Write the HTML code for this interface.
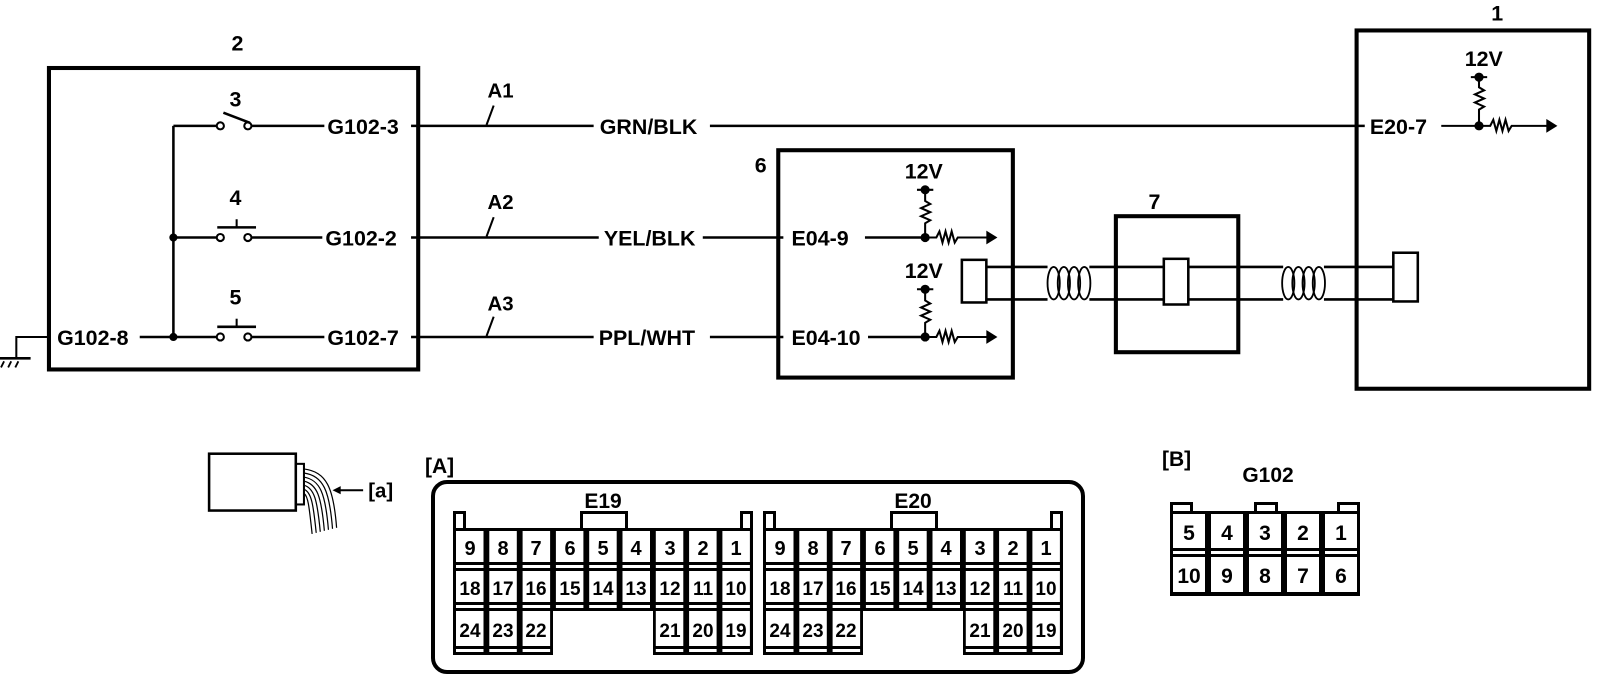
<!DOCTYPE html>
<html><head><meta charset="utf-8"><style>
html,body{margin:0;padding:0;background:#fff;}
svg{display:block;}
text{font-family:"Liberation Sans",Arial,sans-serif;font-weight:bold;fill:#000;}
</style></head><body>
<svg width="1600" height="686" viewBox="0 0 1600 686" xmlns="http://www.w3.org/2000/svg">
<g transform="scale(1.02,1.015)" stroke="#000" fill="none" stroke-linecap="butt">
  <rect x="48" y="67" width="362" height="297" stroke-width="4"/>
  <text x="227" y="50" font-size="21" stroke="none">2</text>
  <line x1="170" y1="124" x2="170" y2="332" stroke-width="2.5"/>
  <line x1="170" y1="124" x2="212" y2="124" stroke-width="2.5"/>
  <circle cx="170" cy="234" r="3.5" fill="#000"/>
  <circle cx="170" cy="332" r="3.5" fill="#000"/>
  <circle cx="216" cy="124" r="3.5" stroke-width="2" fill="#fff"/>
  <circle cx="243" cy="124" r="3.5" stroke-width="2" fill="#fff"/>
  <line x1="219" y1="111" x2="245" y2="121" stroke-width="2.5"/>
  <line x1="247" y1="124" x2="318" y2="124" stroke-width="2.5"/>
  <text x="225" y="105" font-size="21" stroke="none">3</text>
  <line x1="170" y1="234" x2="212" y2="234" stroke-width="2.5"/>
  <circle cx="216" cy="234" r="3.5" stroke-width="2" fill="#fff"/>
  <circle cx="243" cy="234" r="3.5" stroke-width="2" fill="#fff"/>
  <line x1="213" y1="224" x2="251" y2="224" stroke-width="2.5"/>
  <line x1="232" y1="216" x2="232" y2="224" stroke-width="2"/>
  <line x1="247" y1="234" x2="316" y2="234" stroke-width="2.5"/>
  <text x="225" y="202" font-size="21" stroke="none">4</text>
  <line x1="137" y1="332" x2="212" y2="332" stroke-width="2.5"/>
  <circle cx="216" cy="332" r="3.5" stroke-width="2" fill="#fff"/>
  <circle cx="243" cy="332" r="3.5" stroke-width="2" fill="#fff"/>
  <line x1="213" y1="322" x2="251" y2="322" stroke-width="2.5"/>
  <line x1="232" y1="314" x2="232" y2="322" stroke-width="2"/>
  <line x1="247" y1="332" x2="318" y2="332" stroke-width="2.5"/>
  <text x="225" y="300" font-size="21" stroke="none">5</text>
  <text x="321" y="132" font-size="21" stroke="none">G102-3</text>
  <text x="319" y="242" font-size="21" stroke="none">G102-2</text>
  <text x="321" y="340" font-size="21" stroke="none">G102-7</text>
  <text x="56" y="340" font-size="21" stroke="none">G102-8</text>
  <polyline points="50,332 16,332 16,353" stroke-width="2"/>
  <line x1="0" y1="353" x2="30" y2="353" stroke-width="2.5"/>
  <line x1="4" y1="356" x2="1" y2="362" stroke-width="1.8"/>
  <line x1="11" y1="356" x2="8" y2="362" stroke-width="1.8"/>
  <line x1="18" y1="356" x2="15" y2="362" stroke-width="1.8"/>
  <line x1="403" y1="124" x2="582" y2="124" stroke-width="2.5"/>
  <line x1="696" y1="124" x2="1338" y2="124" stroke-width="2.5"/>
  <text x="588" y="132" font-size="21" stroke="none">GRN/BLK</text>
  <line x1="403" y1="234" x2="587" y2="234" stroke-width="2.5"/>
  <line x1="689" y1="234" x2="768" y2="234" stroke-width="2.5"/>
  <text x="592" y="242" font-size="21" stroke="none">YEL/BLK</text>
  <line x1="403" y1="332" x2="582" y2="332" stroke-width="2.5"/>
  <line x1="696" y1="332" x2="768" y2="332" stroke-width="2.5"/>
  <text x="587" y="340" font-size="21" stroke="none">PPL/WHT</text>
  <text x="478" y="96" font-size="20" stroke="none">A1</text>
  <line x1="477" y1="123" x2="484" y2="104" stroke-width="2"/>
  <text x="478" y="206" font-size="20" stroke="none">A2</text>
  <line x1="477" y1="233" x2="484" y2="214" stroke-width="2"/>
  <text x="478" y="306" font-size="20" stroke="none">A3</text>
  <line x1="477" y1="331" x2="484" y2="312" stroke-width="2"/>
  <rect x="763" y="148" width="230" height="224" stroke-width="4"/>
  <text x="740" y="170" font-size="21" stroke="none">6</text>
  <text x="776" y="242" font-size="21" stroke="none">E04-9</text>
  <text x="776" y="340" font-size="21" stroke="none">E04-10</text>
  <text x="887" y="176" font-size="21" stroke="none">12V</text>
  <text x="887" y="274" font-size="21" stroke="none">12V</text>
  <line x1="848" y1="234" x2="904" y2="234" stroke-width="2.5"/>
  <line x1="851" y1="332" x2="904" y2="332" stroke-width="2.5"/>
  <g stroke-width="2">
    <line x1="899" y1="187" x2="915" y2="187"/>
    <circle cx="907" cy="187" r="3.5" fill="#000"/>
    <polyline points="907,187 907,198 912,201 903,205 912,209 903,213 912,217 907,220 907,234"/>
    <circle cx="907" cy="234" r="3.5" fill="#000"/>
    <polyline points="907,234 918,234 921,228 924,239 927,228 930,239 933,228 936,239 939,234 968,234"/>
    <polygon points="968,229 976,234 968,239" fill="#000"/>
    <line x1="899" y1="285" x2="915" y2="285"/>
    <circle cx="907" cy="285" r="3.5" fill="#000"/>
    <polyline points="907,285 907,296 912,299 903,303 912,307 903,311 912,315 907,318 907,332"/>
    <circle cx="907" cy="332" r="3.5" fill="#000"/>
    <polyline points="907,332 918,332 921,326 924,337 927,326 930,337 933,326 936,337 939,332 968,332"/>
    <polygon points="968,327 976,332 968,337" fill="#000"/>
  </g>
  <rect x="1330" y="30" width="228" height="353" stroke-width="4"/>
  <text x="1462" y="20" font-size="21" stroke="none">1</text>
  <text x="1343" y="132" font-size="21" stroke="none">E20-7</text>
  <text x="1436" y="65" font-size="21" stroke="none">12V</text>
  <g stroke-width="2">
    <line x1="1413" y1="124" x2="1450" y2="124"/>
    <line x1="1442" y1="76" x2="1458" y2="76"/>
    <circle cx="1450" cy="76" r="3.5" fill="#000"/>
    <polyline points="1450,76 1450,86 1455,89 1446,93 1455,97 1446,101 1455,105 1450,108 1450,124"/>
    <circle cx="1450" cy="124" r="3.5" fill="#000"/>
    <polyline points="1450,124 1461,124 1464,118 1467,129 1470,118 1473,129 1476,118 1479,129 1482,124 1517,124"/>
    <polygon points="1517,119 1525,124 1517,129" fill="#000"/>
  </g>
  <rect x="1094" y="213" width="120" height="134" stroke-width="4"/>
  <text x="1126" y="206" font-size="21" stroke="none">7</text>
  <g stroke-width="2.5">
    <line x1="967" y1="263" x2="1027" y2="263"/>
    <line x1="967" y1="295" x2="1027" y2="295"/>
    <line x1="1068" y1="263" x2="1258" y2="263"/>
    <line x1="1068" y1="295" x2="1258" y2="295"/>
    <line x1="1298" y1="263" x2="1366" y2="263"/>
    <line x1="1298" y1="295" x2="1366" y2="295"/>
    <g stroke-width="1.8">
      <ellipse cx="1033" cy="279" rx="6" ry="16"/>
      <ellipse cx="1043" cy="279" rx="6" ry="16"/>
      <ellipse cx="1053" cy="279" rx="6" ry="16"/>
      <ellipse cx="1063" cy="279" rx="6" ry="16"/>
      <ellipse cx="1263" cy="279" rx="6" ry="16"/>
      <ellipse cx="1273" cy="279" rx="6" ry="16"/>
      <ellipse cx="1283" cy="279" rx="6" ry="16"/>
      <ellipse cx="1293" cy="279" rx="6" ry="16"/>
    </g>
    <rect x="943" y="256" width="24" height="42" fill="#fff"/>
    <rect x="1141" y="255" width="24" height="45" fill="#fff"/>
    <rect x="1366" y="249" width="24" height="48" fill="#fff"/>
  </g>
  <rect x="205" y="447" width="85" height="56" stroke-width="2.5"/>
  <rect x="290" y="457" width="8" height="40" stroke-width="2"/>
  <g stroke-width="1.2">
    <path d="M298,462 C320,465 327,480 330,520"/>
    <path d="M298,466 C317,469 323,483 326,521"/>
    <path d="M298,470 C314,473 319,486 322,522"/>
    <path d="M298,474 C311,477 315,489 318,523"/>
    <path d="M298,478 C308,481 311,492 314,524"/>
    <path d="M298,482 C305,485 307,495 310,525"/>
    <path d="M298,486 C302,489 303,498 306,526"/>
  </g>
  <line x1="332" y1="483" x2="356" y2="483" stroke-width="2"/>
  <polygon points="326,483 334,479 334,487" fill="#000" stroke="none"/>
  <text x="361" y="490" font-size="20" stroke="none">[a]</text>
</g>

<text x="425" y="473" font-size="21">[A]</text>
<rect x="433" y="482" width="650" height="190" rx="14" fill="none" stroke="#000" stroke-width="4"/>
<text x="603" y="508" font-size="21" text-anchor="middle">E19</text>
<text x="913" y="508" font-size="21" text-anchor="middle">E20</text>
<g fill="#000">
  <rect x="453" y="528" width="300" height="83"/>
  <rect x="453" y="611" width="100" height="44"/>
  <rect x="653" y="611" width="100" height="44"/>
  <rect x="453" y="511" width="13" height="17"/>
  <rect x="580" y="511" width="48" height="17"/>
  <rect x="740" y="511" width="13" height="17"/>
  <rect x="763" y="528" width="300" height="83"/>
  <rect x="763" y="611" width="100" height="44"/>
  <rect x="963" y="611" width="100" height="44"/>
  <rect x="763" y="511" width="13" height="17"/>
  <rect x="890" y="511" width="48" height="17"/>
  <rect x="1050" y="511" width="13" height="17"/>
  <rect x="1170" y="511" width="190" height="85"/>
  <rect x="1170" y="502" width="23" height="9"/>
  <rect x="1254" y="502" width="24" height="9"/>
  <rect x="1337" y="502" width="23" height="9"/>
</g>
<g fill="#fff">
  <rect x="456" y="514" width="7" height="14"/><rect x="583" y="514" width="42" height="14"/><rect x="743" y="514" width="7" height="14"/>
  <rect x="766" y="514" width="7" height="14"/><rect x="893" y="514" width="42" height="14"/><rect x="1053" y="514" width="7" height="14"/>
  <rect x="1173" y="505" width="17" height="6"/><rect x="1257" y="505" width="18" height="6"/><rect x="1340" y="505" width="17" height="6"/>
</g>
<g fill="#fff">
  <rect x="456" y="531" width="27.5" height="31"/><rect x="489.3" y="531" width="27.5" height="31"/><rect x="522.6" y="531" width="27.5" height="31"/><rect x="555.9" y="531" width="27.5" height="31"/><rect x="589.2" y="531" width="27.5" height="31"/><rect x="622.5" y="531" width="27.5" height="31"/><rect x="655.8" y="531" width="27.5" height="31"/><rect x="689.1" y="531" width="27.5" height="31"/><rect x="722.4" y="531" width="27.5" height="31"/>
  <rect x="456" y="565" width="27.5" height="3"/><rect x="489.3" y="565" width="27.5" height="3"/><rect x="522.6" y="565" width="27.5" height="3"/><rect x="555.9" y="565" width="27.5" height="3"/><rect x="589.2" y="565" width="27.5" height="3"/><rect x="622.5" y="565" width="27.5" height="3"/><rect x="655.8" y="565" width="27.5" height="3"/><rect x="689.1" y="565" width="27.5" height="3"/><rect x="722.4" y="565" width="27.5" height="3"/>
  <rect x="456" y="571" width="27.5" height="31"/><rect x="489.3" y="571" width="27.5" height="31"/><rect x="522.6" y="571" width="27.5" height="31"/><rect x="555.9" y="571" width="27.5" height="31"/><rect x="589.2" y="571" width="27.5" height="31"/><rect x="622.5" y="571" width="27.5" height="31"/><rect x="655.8" y="571" width="27.5" height="31"/><rect x="689.1" y="571" width="27.5" height="31"/><rect x="722.4" y="571" width="27.5" height="31"/>
  <rect x="456" y="605" width="27.5" height="3"/><rect x="489.3" y="605" width="27.5" height="3"/><rect x="522.6" y="605" width="27.5" height="3"/><rect x="555.9" y="605" width="27.5" height="3"/><rect x="589.2" y="605" width="27.5" height="3"/><rect x="622.5" y="605" width="27.5" height="3"/><rect x="655.8" y="605" width="27.5" height="3"/><rect x="689.1" y="605" width="27.5" height="3"/><rect x="722.4" y="605" width="27.5" height="3"/>
  <rect x="456" y="611" width="27.5" height="35"/><rect x="489.3" y="611" width="27.5" height="35"/><rect x="522.6" y="611" width="27.5" height="35"/><rect x="655.8" y="611" width="27.5" height="35"/><rect x="689.1" y="611" width="27.5" height="35"/><rect x="722.4" y="611" width="27.5" height="35"/>
  <rect x="456" y="649" width="27.5" height="3"/><rect x="489.3" y="649" width="27.5" height="3"/><rect x="522.6" y="649" width="27.5" height="3"/><rect x="655.8" y="649" width="27.5" height="3"/><rect x="689.1" y="649" width="27.5" height="3"/><rect x="722.4" y="649" width="27.5" height="3"/>
</g>
<g fill="#fff" transform="translate(310,0)">
  <rect x="456" y="531" width="27.5" height="31"/><rect x="489.3" y="531" width="27.5" height="31"/><rect x="522.6" y="531" width="27.5" height="31"/><rect x="555.9" y="531" width="27.5" height="31"/><rect x="589.2" y="531" width="27.5" height="31"/><rect x="622.5" y="531" width="27.5" height="31"/><rect x="655.8" y="531" width="27.5" height="31"/><rect x="689.1" y="531" width="27.5" height="31"/><rect x="722.4" y="531" width="27.5" height="31"/>
  <rect x="456" y="565" width="27.5" height="3"/><rect x="489.3" y="565" width="27.5" height="3"/><rect x="522.6" y="565" width="27.5" height="3"/><rect x="555.9" y="565" width="27.5" height="3"/><rect x="589.2" y="565" width="27.5" height="3"/><rect x="622.5" y="565" width="27.5" height="3"/><rect x="655.8" y="565" width="27.5" height="3"/><rect x="689.1" y="565" width="27.5" height="3"/><rect x="722.4" y="565" width="27.5" height="3"/>
  <rect x="456" y="571" width="27.5" height="31"/><rect x="489.3" y="571" width="27.5" height="31"/><rect x="522.6" y="571" width="27.5" height="31"/><rect x="555.9" y="571" width="27.5" height="31"/><rect x="589.2" y="571" width="27.5" height="31"/><rect x="622.5" y="571" width="27.5" height="31"/><rect x="655.8" y="571" width="27.5" height="31"/><rect x="689.1" y="571" width="27.5" height="31"/><rect x="722.4" y="571" width="27.5" height="31"/>
  <rect x="456" y="605" width="27.5" height="3"/><rect x="489.3" y="605" width="27.5" height="3"/><rect x="522.6" y="605" width="27.5" height="3"/><rect x="555.9" y="605" width="27.5" height="3"/><rect x="589.2" y="605" width="27.5" height="3"/><rect x="622.5" y="605" width="27.5" height="3"/><rect x="655.8" y="605" width="27.5" height="3"/><rect x="689.1" y="605" width="27.5" height="3"/><rect x="722.4" y="605" width="27.5" height="3"/>
  <rect x="456" y="611" width="27.5" height="35"/><rect x="489.3" y="611" width="27.5" height="35"/><rect x="522.6" y="611" width="27.5" height="35"/><rect x="655.8" y="611" width="27.5" height="35"/><rect x="689.1" y="611" width="27.5" height="35"/><rect x="722.4" y="611" width="27.5" height="35"/>
  <rect x="456" y="649" width="27.5" height="3"/><rect x="489.3" y="649" width="27.5" height="3"/><rect x="522.6" y="649" width="27.5" height="3"/><rect x="655.8" y="649" width="27.5" height="3"/><rect x="689.1" y="649" width="27.5" height="3"/><rect x="722.4" y="649" width="27.5" height="3"/>
</g>
<g font-size="20" text-anchor="middle">
  <g>
    <text x="470" y="555">9</text><text x="503" y="555">8</text><text x="536" y="555">7</text><text x="570" y="555">6</text><text x="603" y="555">5</text><text x="636" y="555">4</text><text x="670" y="555">3</text><text x="703" y="555">2</text><text x="736" y="555">1</text>
    <text x="470" y="595" font-size="19">18</text><text x="503" y="595" font-size="19">17</text><text x="536" y="595" font-size="19">16</text><text x="570" y="595" font-size="19">15</text><text x="603" y="595" font-size="19">14</text><text x="636" y="595" font-size="19">13</text><text x="670" y="595" font-size="19">12</text><text x="703" y="595" font-size="19">11</text><text x="736" y="595" font-size="19">10</text>
    <text x="470" y="637" font-size="19">24</text><text x="503" y="637" font-size="19">23</text><text x="536" y="637" font-size="19">22</text><text x="670" y="637" font-size="19">21</text><text x="703" y="637" font-size="19">20</text><text x="736" y="637" font-size="19">19</text>
  </g>
  <g transform="translate(310,0)">
    <text x="470" y="555">9</text><text x="503" y="555">8</text><text x="536" y="555">7</text><text x="570" y="555">6</text><text x="603" y="555">5</text><text x="636" y="555">4</text><text x="670" y="555">3</text><text x="703" y="555">2</text><text x="736" y="555">1</text>
    <text x="470" y="595" font-size="19">18</text><text x="503" y="595" font-size="19">17</text><text x="536" y="595" font-size="19">16</text><text x="570" y="595" font-size="19">15</text><text x="603" y="595" font-size="19">14</text><text x="636" y="595" font-size="19">13</text><text x="670" y="595" font-size="19">12</text><text x="703" y="595" font-size="19">11</text><text x="736" y="595" font-size="19">10</text>
    <text x="470" y="637" font-size="19">24</text><text x="503" y="637" font-size="19">23</text><text x="536" y="637" font-size="19">22</text><text x="670" y="637" font-size="19">21</text><text x="703" y="637" font-size="19">20</text><text x="736" y="637" font-size="19">19</text>
  </g>
</g>

<text x="1162" y="466" font-size="21">[B]</text>
<text x="1268" y="482" font-size="21" text-anchor="middle">G102</text>
<g fill="#fff">
  <rect x="1173" y="514" width="32" height="34"/><rect x="1211" y="514" width="32" height="34"/><rect x="1249" y="514" width="32" height="34"/><rect x="1287" y="514" width="32" height="34"/><rect x="1325" y="514" width="32" height="34"/>
  <rect x="1173" y="551" width="32" height="3"/><rect x="1211" y="551" width="32" height="3"/><rect x="1249" y="551" width="32" height="3"/><rect x="1287" y="551" width="32" height="3"/><rect x="1325" y="551" width="32" height="3"/>
  <rect x="1173" y="557" width="32" height="35"/><rect x="1211" y="557" width="32" height="35"/><rect x="1249" y="557" width="32" height="35"/><rect x="1287" y="557" width="32" height="35"/><rect x="1325" y="557" width="32" height="35"/>
</g>
<g font-size="21" text-anchor="middle">
  <text x="1189" y="540">5</text><text x="1227" y="540">4</text><text x="1265" y="540">3</text><text x="1303" y="540">2</text><text x="1341" y="540">1</text>
  <text x="1189" y="583">10</text><text x="1227" y="583">9</text><text x="1265" y="583">8</text><text x="1303" y="583">7</text><text x="1341" y="583">6</text>
</g>
</svg>
</body></html>
